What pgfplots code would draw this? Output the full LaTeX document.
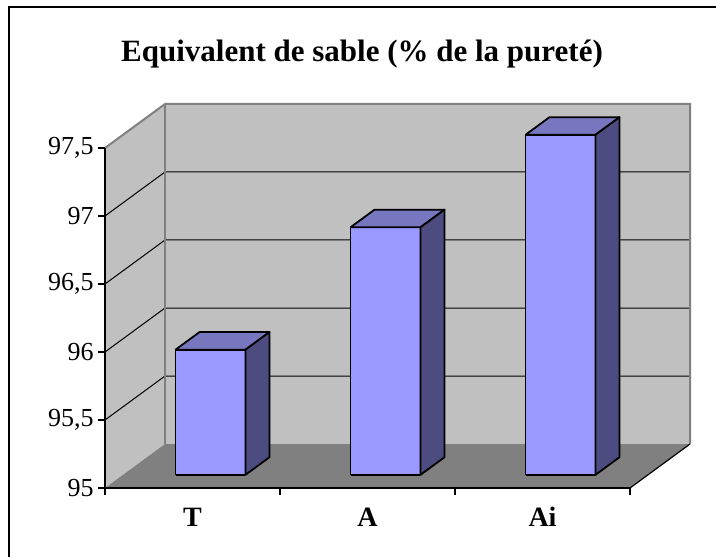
\documentclass[border=0pt]{standalone}
\usepackage{fontspec}
\setmainfont{Liberation Serif}
\usepackage{pgfplots}
\pgfplotsset{compat=1.18}
\definecolor{wall}{RGB}{192,192,192}
\definecolor{walledge}{RGB}{128,128,128}
\definecolor{floorc}{RGB}{128,128,128}
\definecolor{barfront}{RGB}{153,153,255}
\definecolor{bartop}{RGB}{119,119,192}
\definecolor{barside}{RGB}{76,76,128}
\begin{document}
\begin{tikzpicture}
\begin{pgfinterruptboundingbox}
\begin{axis}[x={(87.5pt,0pt)}, y={(30pt,22pt)}, z={(0pt,68pt)},
 xmin=0.5,xmax=3.5,ymin=0,ymax=1,zmin=95,zmax=97.5,
 hide axis, clip=false, every axis plot/.append style={mark=none}]
% walls and floor
\addplot3[fill=wall, draw=none] coordinates {(0.5,0,95) (0.5,1,95) (0.5,1,97.5) (0.5,0,97.5) (0.5,0,95)};
\addplot3[fill=wall, draw=none] coordinates {(0.5,1,95) (3.5,1,95) (3.5,1,97.5) (0.5,1,97.5) (0.5,1,95)};
\addplot3[fill=floorc, draw=none] coordinates {(0.5,0,95) (3.5,0,95) (3.5,1,95) (0.5,1,95) (0.5,0,95)};
% gridlines
\pgfplotsinvokeforeach{95.5,96,96.5,97}{
 \addplot3[black, line width=0.5pt] coordinates {(0.5,0,#1) (0.5,1,#1) (3.5,1,#1)};
}
% wall edges
\addplot3[walledge, line width=1pt] coordinates {(0.5,0,97.5) (0.5,1,97.5) (3.5,1,97.5) (3.5,1,95)};
\addplot3[walledge, line width=1pt] coordinates {(0.5,1,95) (0.5,1,97.5)};
% floor edges and axes
\addplot3[black, line width=0.6pt] coordinates {(3.5,0,95) (3.5,1,95)};
\addplot3[black, line width=0.75pt] coordinates {(0.5,0,95) (3.5,0,95)};
\addplot3[black, line width=0.75pt] coordinates {(0.5,0,95) (0.5,0,97.5)};
\pgfplotsinvokeforeach{95,95.5,96,96.5,97,97.5}{
 \draw[line width=0.6pt] (axis cs:0.5,0,#1) -- ++(-3.3pt,0pt);
}
\pgfplotsinvokeforeach{0.5,1.5,2.5,3.5}{
 \draw[line width=0.6pt] (axis cs:#1,0,95) -- ++(0pt,-3.5pt);
}
% bars: T = 95.92
\addplot3[fill=barfront, draw=black, line width=0.9pt, line join=round] coordinates {(0.8,0.3,95) (1.2,0.3,95) (1.2,0.3,95.92) (0.8,0.3,95.92) (0.8,0.3,95)};
\addplot3[fill=bartop, draw=black, line width=0.9pt, line join=round] coordinates {(0.8,0.3,95.92) (1.2,0.3,95.92) (1.2,0.7,95.92) (0.8,0.7,95.92) (0.8,0.3,95.92)};
\addplot3[fill=barside, draw=black, line width=0.9pt, line join=round] coordinates {(1.2,0.3,95) (1.2,0.7,95) (1.2,0.7,95.92) (1.2,0.3,95.92) (1.2,0.3,95)};
% A = 96.82
\addplot3[fill=barfront, draw=black, line width=0.9pt, line join=round] coordinates {(1.8,0.3,95) (2.2,0.3,95) (2.2,0.3,96.82) (1.8,0.3,96.82) (1.8,0.3,95)};
\addplot3[fill=bartop, draw=black, line width=0.9pt, line join=round] coordinates {(1.8,0.3,96.82) (2.2,0.3,96.82) (2.2,0.7,96.82) (1.8,0.7,96.82) (1.8,0.3,96.82)};
\addplot3[fill=barside, draw=black, line width=0.9pt, line join=round] coordinates {(2.2,0.3,95) (2.2,0.7,95) (2.2,0.7,96.82) (2.2,0.3,96.82) (2.2,0.3,95)};
% Ai = 97.5
\addplot3[fill=barfront, draw=black, line width=0.9pt, line join=round] coordinates {(2.8,0.3,95) (3.2,0.3,95) (3.2,0.3,97.5) (2.8,0.3,97.5) (2.8,0.3,95)};
\addplot3[fill=bartop, draw=black, line width=0.9pt, line join=round] coordinates {(2.8,0.3,97.5) (3.2,0.3,97.5) (3.2,0.7,97.5) (2.8,0.7,97.5) (2.8,0.3,97.5)};
\addplot3[fill=barside, draw=black, line width=0.9pt, line join=round] coordinates {(3.2,0.3,95) (3.2,0.7,95) (3.2,0.7,97.5) (3.2,0.3,97.5) (3.2,0.3,95)};
% labels
\tikzset{ytl/.style={anchor=east, inner sep=0pt, xshift=-5.5pt, font=\fontsize{13}{15}\selectfont},
         xtl/.style={anchor=base, yshift=-19pt, font=\fontsize{14}{16}\selectfont\bfseries}}
\node[ytl] at (axis cs:0.5,0,95) {95};
\node[ytl] at (axis cs:0.5,0,95.5) {95,5};
\node[ytl] at (axis cs:0.5,0,96) {96};
\node[ytl] at (axis cs:0.5,0,96.5) {96,5};
\node[ytl] at (axis cs:0.5,0,97) {97};
\node[ytl] at (axis cs:0.5,0,97.5) {97,5};
\node[xtl] at (axis cs:1,0,95) {T};
\node[xtl] at (axis cs:2,0,95) {A};
\node[xtl] at (axis cs:3,0,95) {Ai};
\coordinate (O) at (axis cs:0.5,0,95);
\end{axis}
\end{pgfinterruptboundingbox}
\useasboundingbox ([shift={(-52.5pt,-34pt)}]O) rectangle ++(358pt,278pt);
\draw[line width=0.75pt] ([shift={(-48pt,-40pt)}]O) -- ([shift={(-48pt,240.5pt)}]O) -- ([shift={(320pt,240.5pt)}]O);
\node[anchor=base, font=\fontsize{15.5}{18}\selectfont\bfseries] at ([shift={(128.5pt,213pt)}]O) {Equivalent de sable (\% de la pureté)};
\end{tikzpicture}
\end{document}
